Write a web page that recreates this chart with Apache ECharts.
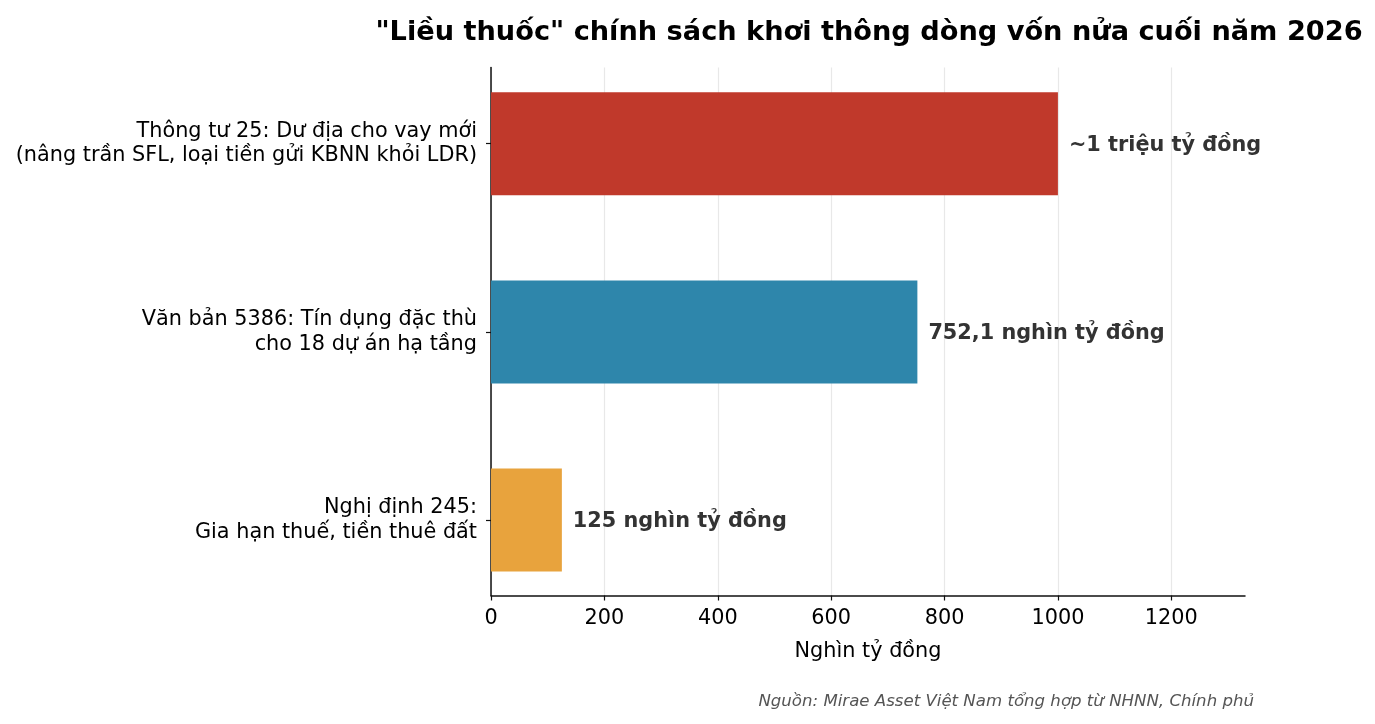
<!DOCTYPE html>
<html>
<head>
<meta charset="utf-8">
<script src="https://cdn.jsdelivr.net/npm/echarts@6/dist/echarts.min.js"></script>
<style>
  html, body { margin: 0; padding: 0; background: #fff; }
  #chart { width: 1375px; height: 724px; }
</style>
</head>
<body>
<div id="chart"></div>
<script>
// data
const categories = [
    'Thông tư 25: Dư địa cho vay mới\n(nâng trần SFL, loại tiền gửi KBNN khỏi LDR)',
    'Văn bản 5386: Tín dụng đặc thù\ncho 18 dự án hạ tầng',
    'Nghị định 245:\nGia hạn thuế, tiền thuê đất'
]
const values = [1000, 752.1, 125]
const valueLabels = ['~1 triệu tỷ đồng', '752,1 nghìn tỷ đồng', '125 nghìn tỷ đồng']
const barColors = ['#C0392B', '#2E86AB', '#E8A33D']
const xTicks = [0, 200, 400, 600, 800, 1000, 1200]

const font = 'DejaVu Sans'
const fs = 20.8
const xMax = 1330

const myChart = echarts.init(document.getElementById('chart'))

const option = {
    animation: false,
    backgroundColor: '#fff',
    textStyle: { fontFamily: font },
    title: [
        {
            text: '"Liều thuốc" chính sách khơi thông dòng vốn nửa cuối năm 2026',
            left: 864,
            top: 14,
            textAlign: 'center',
            textStyle: { fontFamily: font, fontSize: 27.2, fontWeight: 'bold', color: '#000' }
        },
        {
            text: 'Nguồn: Mirae Asset Việt Nam tổng hợp từ NHNN, Chính phủ',
            right: 116,
            top: 688,
            textStyle: { fontFamily: font, fontSize: 16.6, fontStyle: 'italic', fontWeight: 'normal', color: '#555' }
        }
    ],
    grid: [
        // bars
        { left: 491, right: 130, top: 49.6, bottom: 109.8 },
        // frame: spines, x ticks, gridlines
        { left: 491, right: 130, top: 67.5, bottom: 128.5 }
    ],
    xAxis: [
        {
            type: 'value', gridIndex: 0, min: 0, max: xMax,
            show: false
        },
        {
            type: 'value', gridIndex: 1, min: 0, max: xMax, interval: 200,
            name: 'Nghìn tỷ đồng',
            nameLocation: 'middle',
            nameGap: 46,
            nameTextStyle: { fontFamily: font, fontSize: fs, color: '#000' },
            axisLine: { show: true, lineStyle: { color: '#111', width: 1.5 } },
            axisTick: { show: true, inside: false, length: 5, lineStyle: { color: '#111', width: 1.2 },
                customValues: xTicks },
            axisLabel: { fontFamily: font, fontSize: fs, color: '#000', margin: 13,
                customValues: xTicks, formatter: v => String(v) },
            splitLine: { show: true, lineStyle: { color: '#e8e8e8', width: 1.2 } }
        }
    ],
    yAxis: [
        {
            type: 'category', gridIndex: 0, data: categories, inverse: true,
            axisLine: { show: false },
            axisTick: { show: true, alignWithLabel: true, length: 5, lineStyle: { color: '#111', width: 1.2 } },
            axisLabel: { fontFamily: font, fontSize: fs, color: '#000', margin: 14, lineHeight: 24.5,
                align: 'right', padding: [10, 0, 0, 0] },
            splitLine: { show: false }
        },
        {
            type: 'value', gridIndex: 1, min: 0, max: 1,
            axisLine: { show: true, lineStyle: { color: '#111', width: 1.5 } },
            axisTick: { show: false },
            axisLabel: { show: false },
            splitLine: { show: false }
        }
    ],
    series: [
        {
            type: 'bar',
            xAxisIndex: 0,
            yAxisIndex: 0,
            barWidth: 103,
            data: values.map((v, i) => ({
                value: v,
                itemStyle: { color: barColors[i] }
            })),
            label: {
                show: true,
                position: 'right',
                distance: 11,
                offset: [0, 2],
                fontFamily: font,
                fontSize: fs,
                fontWeight: 'bold',
                color: '#333',
                formatter: p => valueLabels[p.dataIndex]
            }
        }
    ]
}

myChart.setOption(option)
</script>
</body>
</html>
